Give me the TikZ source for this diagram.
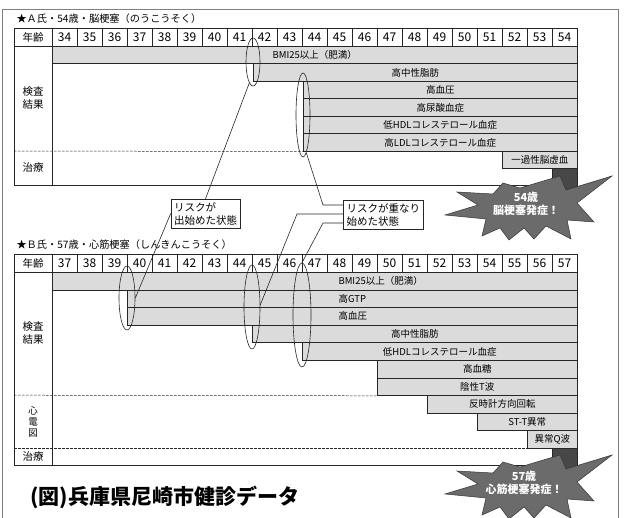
\documentclass[tikz,border=0pt]{standalone}
\usepackage{fontspec}
\setmainfont{Noto Sans CJK JP}
\usetikzlibrary{positioning}
\usetikzlibrary{shapes.geometric}

\newcommand\agefont{\fontsize{12}{14}\selectfont}
\newcommand\barfont{\fontsize{9.5}{11}\selectfont}
\newcommand\sidefont{\fontsize{10.5}{13}\selectfont}

\tikzset{
  agecell/.style={draw=black!85, line width=.6pt, minimum width=25pt, minimum height=18pt, inner sep=0pt, font=\agefont},
  riskbar/.style={draw=black!85, fill=black!14, line width=.6pt, minimum height=17.5pt, inner sep=0pt, anchor=north west, font=\barfont},
  onsetbar/.style={draw=black!85, fill=black!72, line width=.6pt, minimum width=25pt, inner sep=0pt, anchor=north west},
  tableline/.style={draw=black!85, line width=.8pt},
  dashline/.style={draw=black!85, line width=.5pt, dash pattern=on 2.5pt off 1.5pt},
  oval/.style={ellipse, draw=black!85, line width=.6pt, inner sep=0pt},
  leader/.style={draw=black!85, line width=.6pt},
  calloutbox/.style={draw=black!85, fill=white, line width=.6pt, align=left, inner sep=3pt, font=\sidefont},
  sidelabel/.style={align=center, font=\sidefont},
  titletext/.style={anchor=west, font=\fontsize{10.2}{12}\selectfont},
  burst/.style={fill=black!58, draw=black!80, line width=.5pt},
  bursttext/.style={align=center, text=white, font=\fontsize{11}{13}\selectfont\bfseries}
}

\begin{document}
\begin{tikzpicture}[x=1pt, y=-1pt]
\useasboundingbox (0,0) rectangle (637,518);

\draw[draw=black!50, line width=.8pt] (2,518) -- (2,9) -- (618,9) -- (618,518);

% A: header
\node(titleA)[titletext] at (13,19) {★Ａ氏・54歳・脳梗塞（のうこうそく）};
\node(yearA)[agecell, minimum width=38pt, font=\sidefont] at (33,37) {年齢};
\foreach \i in {0,...,20}{
  \pgfmathtruncatemacro\age{34+\i}
  \node(hA\i)[agecell] at (64.5+25*\i,37) {\age};
}

% A: bars
\node(A1)[riskbar, minimum width=525pt] at (52,46) {BMI25以上（肥満）};
\node(A2)[riskbar, minimum width=324pt] at (253,63.5) {高中性脂肪};
\node(A3)[riskbar, minimum width=274pt] at (303,81) {高血圧};
\node(A4)[riskbar, minimum width=274pt] at (303,98.5) {高尿酸血症};
\node(A5)[riskbar, minimum width=274pt] at (303,116) {低HDLコレステロール血症};
\node(A6)[riskbar, minimum width=274pt] at (303,133.5) {高LDLコレステロール血症};
\node(A7)[riskbar, minimum width=75pt] at (502,151) {一過性脳虚血};

\draw[tableline] (14,28) -- (14,185) -- (577,185);
\draw[tableline] (52,46) -- (52,185);
\draw[dashline] (14,151) -- (A6.south west);

\node(testA)[sidelabel] at (33,98.5) {検査\\結果};
\node(cureA)[sidelabel] at (33,168) {治療};

% B: header
\node(titleB)[titletext] at (13,245) {★Ｂ氏・57歳・心筋梗塞（しんきんこうそく）};
\node(yearB)[agecell, minimum width=38pt, font=\sidefont] at (33,263) {年齢};
\foreach \i in {0,...,20}{
  \pgfmathtruncatemacro\age{37+\i}
  \node(hB\i)[agecell] at (64.5+25*\i,263) {\age};
}

% B: bars
\node(B1)[riskbar, minimum width=525pt, minimum height=17.6pt] at (52,272) {};
\node(B2)[riskbar, minimum width=450pt, minimum height=17.6pt] at (127,289.6) {};
\node(B3)[riskbar, minimum width=450pt, minimum height=17.6pt] at (127,307.2) {};
\node(B4)[riskbar, minimum width=325pt, minimum height=17.6pt] at (252,324.8) {高中性脂肪};
\node(B5)[riskbar, minimum width=275pt, minimum height=17.6pt] at (302,342.4) {低HDLコレステロール血症};
\node(B6)[riskbar, minimum width=200pt, minimum height=17.6pt] at (377,360) {高血糖};
\node(B7)[riskbar, minimum width=200pt, minimum height=17.6pt] at (377,377.6) {陰性T波};
\node(B8)[riskbar, minimum width=150pt, minimum height=17.6pt] at (427,395.2) {反時計方向回転};
\node(B9)[riskbar, minimum width=100pt, minimum height=17.6pt] at (477,412.8) {ST-T異常};
\node(B10)[riskbar, minimum width=50pt, minimum height=17.6pt] at (527,430.4) {異常Q波};

\node(lB1)[anchor=west, font=\barfont] at (335,280.8) {BMI25以上（肥満）};
\node(lB2)[anchor=west, font=\barfont] at (335,298.4) {高GTP};
\node(lB3)[anchor=west, font=\barfont] at (335,316) {高血圧};

\draw[tableline] (14,254) -- (14,465.6) -- (577,465.6);
\draw[tableline] (52,272) -- (52,465.6);
\draw[dashline] (14,395.2) -- (B7.south west);
\draw[dashline] (14,448) -- (552,448);

\node(testB)[sidelabel] at (33,333) {検査\\結果};
\node(ecgB)[sidelabel, font=\fontsize{9.5}{11}\selectfont] at (33,421.6) {心\\電\\図};
\node(cureB)[sidelabel] at (33,456.8) {治療};

% ovals
\node(ovA1)[oval, minimum width=14pt, minimum height=48pt] at (253,62) {};
\node(ovA2)[oval, minimum width=14pt, minimum height=84pt] at (303,115) {};
\node(ovB1)[oval, minimum width=16pt, minimum height=64pt] at (127,298) {};
\node(ovB2)[oval, minimum width=16pt, minimum height=84pt] at (252,307) {};
\node(ovB3)[oval, minimum width=18pt, minimum height=104pt] at (302,315) {};

% callouts
\node(riskA)[calloutbox] at (205.5,213.5) {リスクが\\出始めた状態};
\node(riskB)[calloutbox, right=103pt of riskA, yshift=-1pt] {リスクが重なり\\始めた状態};

\coordinate (kneeA) at (323,205);
\coordinate (kneeB) at (297,214);
\coordinate (kneeC) at (323,223);

\draw[leader] (ovA1.-100) -- (riskA.north);
\draw[leader] (riskA.west) -- (ovB1.east);
\draw[leader] (ovA2.-85) -- (kneeA) -- (kneeA -| riskB.west);
\draw[leader] (ovB2.15) -- (kneeB) -- (kneeB -| riskB.west);
\draw[leader] (ovB3.north) -- (kneeC) -- (kneeC -| riskB.west);

% onset
\node(A8)[onsetbar, minimum height=32pt] at (552,168.5) {};
\node(B11)[onsetbar, minimum height=32pt] at (552,448) {};

\foreach \dy in {0,279}{
  \draw[burst, shift={(0,\dy)}] (503,183) -- (520,188) -- (560,176) -- (566,190) -- (612,176)
    -- (577,203) -- (594,222) -- (567,220) -- (571,239) -- (546,226) -- (534,239)
    -- (524,228) -- (509,240) -- (500,228) -- (482,236) -- (486,219) -- (445,215)
    -- (478,205) -- (457,192) -- (493,194) -- cycle;
}
\node(onsetA)[bursttext] at (526,204) {54歳\\脳梗塞発症！};
\node(onsetB)[bursttext] at (524,483) {57歳\\心筋梗塞発症！};

\node(caption)[anchor=west, font=\fontsize{21}{21}\selectfont\bfseries] at (27,497) {(図)兵庫県尼崎市健診データ};
\end{tikzpicture}
\end{document}
